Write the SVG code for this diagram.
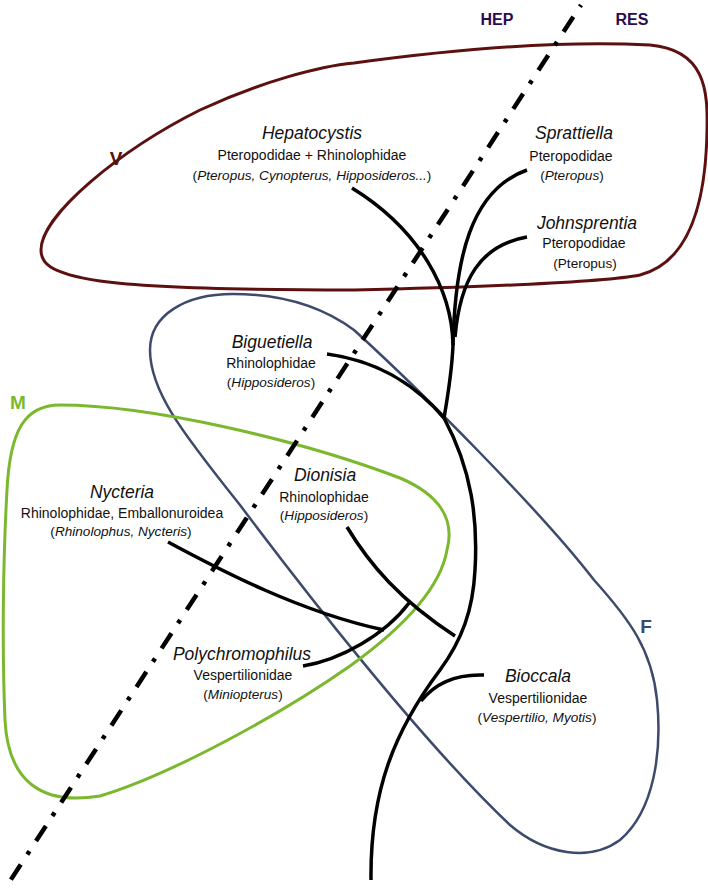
<svg xmlns="http://www.w3.org/2000/svg" width="708" height="891" viewBox="0 0 708 891">
<style>
  .bg { fill: #ffffff; }
  .set { fill: none; stroke-linejoin: round; }
  .setV { stroke: #5c1010; stroke-width: 3; }
  .setF { stroke: #3d4a6b; stroke-width: 2.5; }
  .setM { stroke: #7bb82e; stroke-width: 3; }
  .branch { fill: none; stroke: #000000; stroke-width: 3.5; stroke-linecap: butt; }
  .divider { fill: none; stroke: #000000; stroke-width: 4.5; stroke-dasharray: 4 12 18 12; stroke-dashoffset: 2; }
  text { font-family: "Liberation Sans", Arial, sans-serif; text-anchor: middle; fill: #111111; }
  .genus { font-style: italic; font-size: 17.5px; }
  .fam { font-size: 14px; }
  .host { font-size: 13.6px; }
  .lab { font-weight: bold; font-size: 19px; }
  .side { font-weight: bold; font-size: 16px; fill: #2b0b4f; }
</style>
<rect class="bg" x="0" y="0" width="708" height="891"/>

<g id="set-V">
  <path class="set setV" d="M 41,250 C 41,215 120,150 200,110 C 260,82 320,66 354,63 C 450,50 560,40 650,45 C 705,50 708,90 707,130 C 706,200 690,262 640,275 C 600,283 450,288 354,290 C 250,290 150,288 100,281 C 47,273 41,262 41,250 Z"/>
  <text class="lab" x="116" y="165" style="fill:#5c1010">V</text>
</g>
<g id="set-F">
  <path class="set setF" d="M 233,294 C 185,294 150,315 150,350 C 150,390 180,430 240,505 C 300,585 420,740 510,825 C 545,855 590,862 620,840 C 655,810 662,750 657,700 C 652,650 630,620 594,580 C 540,510 420,390 354,330 C 320,305 280,294 233,294 Z"/>
  <text class="lab" x="646" y="633" style="fill:#3d4a6b">F</text>
</g>
<g id="set-M">
  <path class="set setM" d="M 60,405 C 150,405 300,440 400,478 C 440,495 455,520 447,550 C 440,590 400,630 350,666 C 280,715 170,775 100,796 C 40,806 8,780 5,720 C 2,650 3,560 7,490 C 10,430 25,405 60,405 Z"/>
  <text class="lab" x="18" y="409" style="fill:#7bb82e">M</text>
</g>

<g id="divider">
  <path class="divider" d="M 581,5 L 10,881"/>
  <text class="side" x="497" y="25">HEP</text>
  <text class="side" x="632" y="25">RES</text>
</g>

<g id="connectors">
  <path class="branch" d="M 371,880 C 370,790 395,730 440,670 C 462,640 473,610 475,570 C 478,520 472,470 444,418"/>
  <path class="branch" d="M 444,418 C 420,390 385,362 327,354"/>
  <path class="branch" d="M 444,418 C 448,395 452,370 453,345"/>
  <path class="branch" d="M 453,345 C 452,290 420,230 352,188"/>
  <path class="branch" d="M 453,345 C 455,260 470,190 527,170"/>
  <path class="branch" d="M 455,337 C 460,280 480,245 527,237"/>
  <path class="branch" d="M 347,527 C 370,565 400,600 455,636"/>
  <path class="branch" d="M 303,666 C 340,660 385,635 409,603"/>
  <path class="branch" d="M 168,542 C 220,570 300,612 384,630"/>
  <path class="branch" d="M 421,701 C 437,681 458,674 484,675"/>
</g>

<g id="node-hepatocystis">
  <text class="genus" x="312" y="139">Hepatocystis</text>
  <text class="fam" x="312" y="160">Pteropodidae + Rhinolophidae</text>
  <text class="host" x="312" y="180">(<tspan font-style="italic">Pteropus, Cynopterus, Hipposideros...</tspan>)</text>
</g>
<g id="node-sprattiella">
  <text class="genus" x="574" y="139">Sprattiella</text>
  <text class="fam" x="571" y="161">Pteropodidae</text>
  <text class="host" x="572" y="180">(<tspan font-style="italic">Pteropus</tspan>)</text>
</g>
<g id="node-johnsprentia">
  <text class="genus" x="587" y="229">Johnsprentia</text>
  <text class="fam" x="584" y="248">Pteropodidae</text>
  <text class="host" x="585" y="268">(Pteropus)</text>
</g>
<g id="node-biguetiella">
  <text class="genus" x="272" y="348">Biguetiella</text>
  <text class="fam" x="271" y="368">Rhinolophidae</text>
  <text class="host" x="271" y="387">(<tspan font-style="italic">Hipposideros</tspan>)</text>
</g>
<g id="node-dionisia">
  <text class="genus" x="325" y="481">Dionisia</text>
  <text class="fam" x="324" y="502">Rhinolophidae</text>
  <text class="host" x="324" y="520">(<tspan font-style="italic">Hipposideros</tspan>)</text>
</g>
<g id="node-nycteria">
  <text class="genus" x="122" y="498">Nycteria</text>
  <text class="fam" x="122" y="518">Rhinolophidae, Emballonuroidea</text>
  <text class="host" x="121" y="536">(<tspan font-style="italic">Rhinolophus, Nycteris</tspan>)</text>
</g>
<g id="node-polychromophilus">
  <text class="genus" x="242" y="660">Polychromophilus</text>
  <text class="fam" x="243" y="680">Vespertilionidae</text>
  <text class="host" x="243" y="699">(<tspan font-style="italic">Miniopterus</tspan>)</text>
</g>
<g id="node-bioccala">
  <text class="genus" x="538" y="682">Bioccala</text>
  <text class="fam" x="538" y="703">Vespertilionidae</text>
  <text class="host" x="537" y="722">(<tspan font-style="italic">Vespertilio, Myotis</tspan>)</text>
</g>
</svg>
